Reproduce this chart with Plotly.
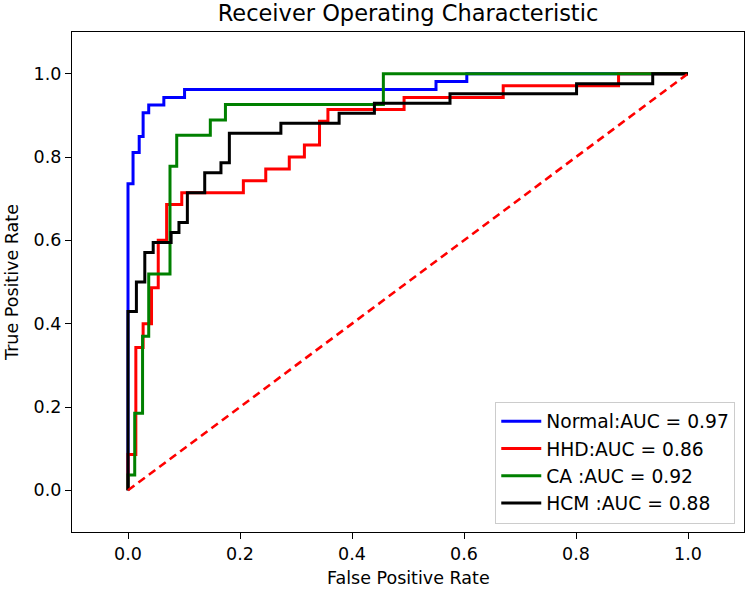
import plotly.graph_objects as go

# ROC corner points (fpr, tpr)
normal_fpr = [0, 0, 0.009, 0.009, 0.020, 0.020, 0.027, 0.027, 0.037, 0.037,
              0.064, 0.064, 0.101, 0.101, 0.550, 0.550, 0.605, 0.605, 1.0]
normal_tpr = [0, 0.736, 0.736, 0.811, 0.811, 0.849, 0.849, 0.906, 0.906, 0.925,
              0.925, 0.943, 0.943, 0.962, 0.962, 0.981, 0.981, 1.0, 1.0]

hhd_fpr = [0, 0, 0.014, 0.014, 0.027, 0.027, 0.042, 0.042, 0.054, 0.054, 0.069,
           0.069, 0.096, 0.096, 0.206, 0.206, 0.246, 0.246, 0.288, 0.288, 0.315,
           0.315, 0.342, 0.342, 0.357, 0.357, 0.493, 0.493, 0.670, 0.670, 0.876,
           0.876, 1.0]
hhd_tpr = [0, 0.086, 0.086, 0.343, 0.343, 0.400, 0.400, 0.486, 0.486, 0.600, 0.600,
           0.686, 0.686, 0.714, 0.714, 0.743, 0.743, 0.771, 0.771, 0.800, 0.800,
           0.829, 0.829, 0.886, 0.886, 0.914, 0.914, 0.943, 0.943, 0.971, 0.971,
           1.0, 1.0]

ca_fpr = [0, 0, 0.012, 0.012, 0.026, 0.026, 0.037, 0.037, 0.075, 0.075, 0.087,
          0.087, 0.147, 0.147, 0.174, 0.174, 0.456, 0.456, 1.0]
ca_tpr = [0, 0.037, 0.037, 0.185, 0.185, 0.370, 0.370, 0.519, 0.519, 0.778, 0.778,
          0.852, 0.852, 0.889, 0.889, 0.926, 0.926, 1.0, 1.0]

hcm_fpr = [0, 0, 0.015, 0.015, 0.030, 0.030, 0.045, 0.045, 0.077, 0.077, 0.091,
           0.091, 0.106, 0.106, 0.137, 0.137, 0.166, 0.166, 0.181, 0.181, 0.273,
           0.273, 0.377, 0.377, 0.440, 0.440, 0.575, 0.575, 0.801, 0.801, 0.937,
           0.937, 1.0]
hcm_tpr = [0, 0.429, 0.429, 0.500, 0.500, 0.571, 0.571, 0.595, 0.595, 0.619, 0.619,
           0.643, 0.643, 0.714, 0.714, 0.762, 0.762, 0.786, 0.786, 0.857, 0.857,
           0.881, 0.881, 0.905, 0.905, 0.929, 0.929, 0.952, 0.952, 0.976, 0.976,
           1.0, 1.0]

labels = ["Normal:AUC = 0.97", "HHD:AUC = 0.86", "CA :AUC = 0.92", "HCM :AUC = 0.88"]
colors = ["#0000ff", "#ff0000", "#008000", "#000000"]
curves = [(normal_fpr, normal_tpr), (hhd_fpr, hhd_tpr),
          (ca_fpr, ca_tpr), (hcm_fpr, hcm_tpr)]

diag = [0, 1]

font = "DejaVu Sans"

fig = go.Figure()
for (fx, ty), name, c in zip(curves, labels, colors):
    fig.add_trace(go.Scatter(x=fx, y=ty, mode="lines", name=name,
                             line=dict(color=c, width=3)))

fig.add_trace(go.Scatter(x=diag, y=diag, mode="lines", showlegend=False,
                         line=dict(color="#ff0000", width=2.6, dash="8px,5px")))

axis_common = dict(
    showgrid=False, zeroline=False, automargin=False,
    showline=True, mirror=True, linecolor="black", linewidth=1.3,
    ticks="outside", ticklen=6, tickwidth=1.3, tickcolor="black",
    tickfont=dict(family=font, size=17.5, color="black"),
    tickvals=[0, 0.2, 0.4, 0.6, 0.8, 1.0],
    ticktext=["0.0", "0.2", "0.4", "0.6", "0.8", "1.0"],
)

fig.update_xaxes(range=[-0.1, 1.1], **axis_common)
fig.update_yaxes(range=[-0.1, 1.1], **axis_common)

# axis titles as annotations so they sit where matplotlib put them
label_font = dict(family=font, size=17.5, color="black")
fig.add_annotation(text="False Positive Rate", xref="paper", yref="paper",
                   x=0.5, y=-0.0926, xanchor="center", yanchor="middle",
                   showarrow=False, font=label_font)
fig.add_annotation(text="True Positive Rate", xref="paper", yref="paper",
                   x=-0.0893, y=0.5, xanchor="center", yanchor="middle",
                   textangle=-90, showarrow=False, font=label_font)

fig.update_layout(
    width=749, height=590,
    margin=dict(l=72, r=5, t=32, b=58),
    paper_bgcolor="white", plot_bgcolor="white",
    title=dict(text="Receiver Operating Characteristic", x=0.5, xref="paper",
               y=1 - 13 / 590, yanchor="middle",
               font=dict(family=font, size=22.5, color="black")),
    legend=dict(x=0.987, y=0.017, xanchor="right", yanchor="bottom",
                itemwidth=40,
                bgcolor="rgba(255,255,255,0.8)", bordercolor="#cccccc",
                borderwidth=1, font=dict(family=font, size=18.7, color="black")),
    showlegend=True,
)

# drop the browser's default page margin so the figure sits at the top-left
fig.write_html("out.html", config={"displayModeBar": False},
               post_script="document.body.style.margin='0px';")
